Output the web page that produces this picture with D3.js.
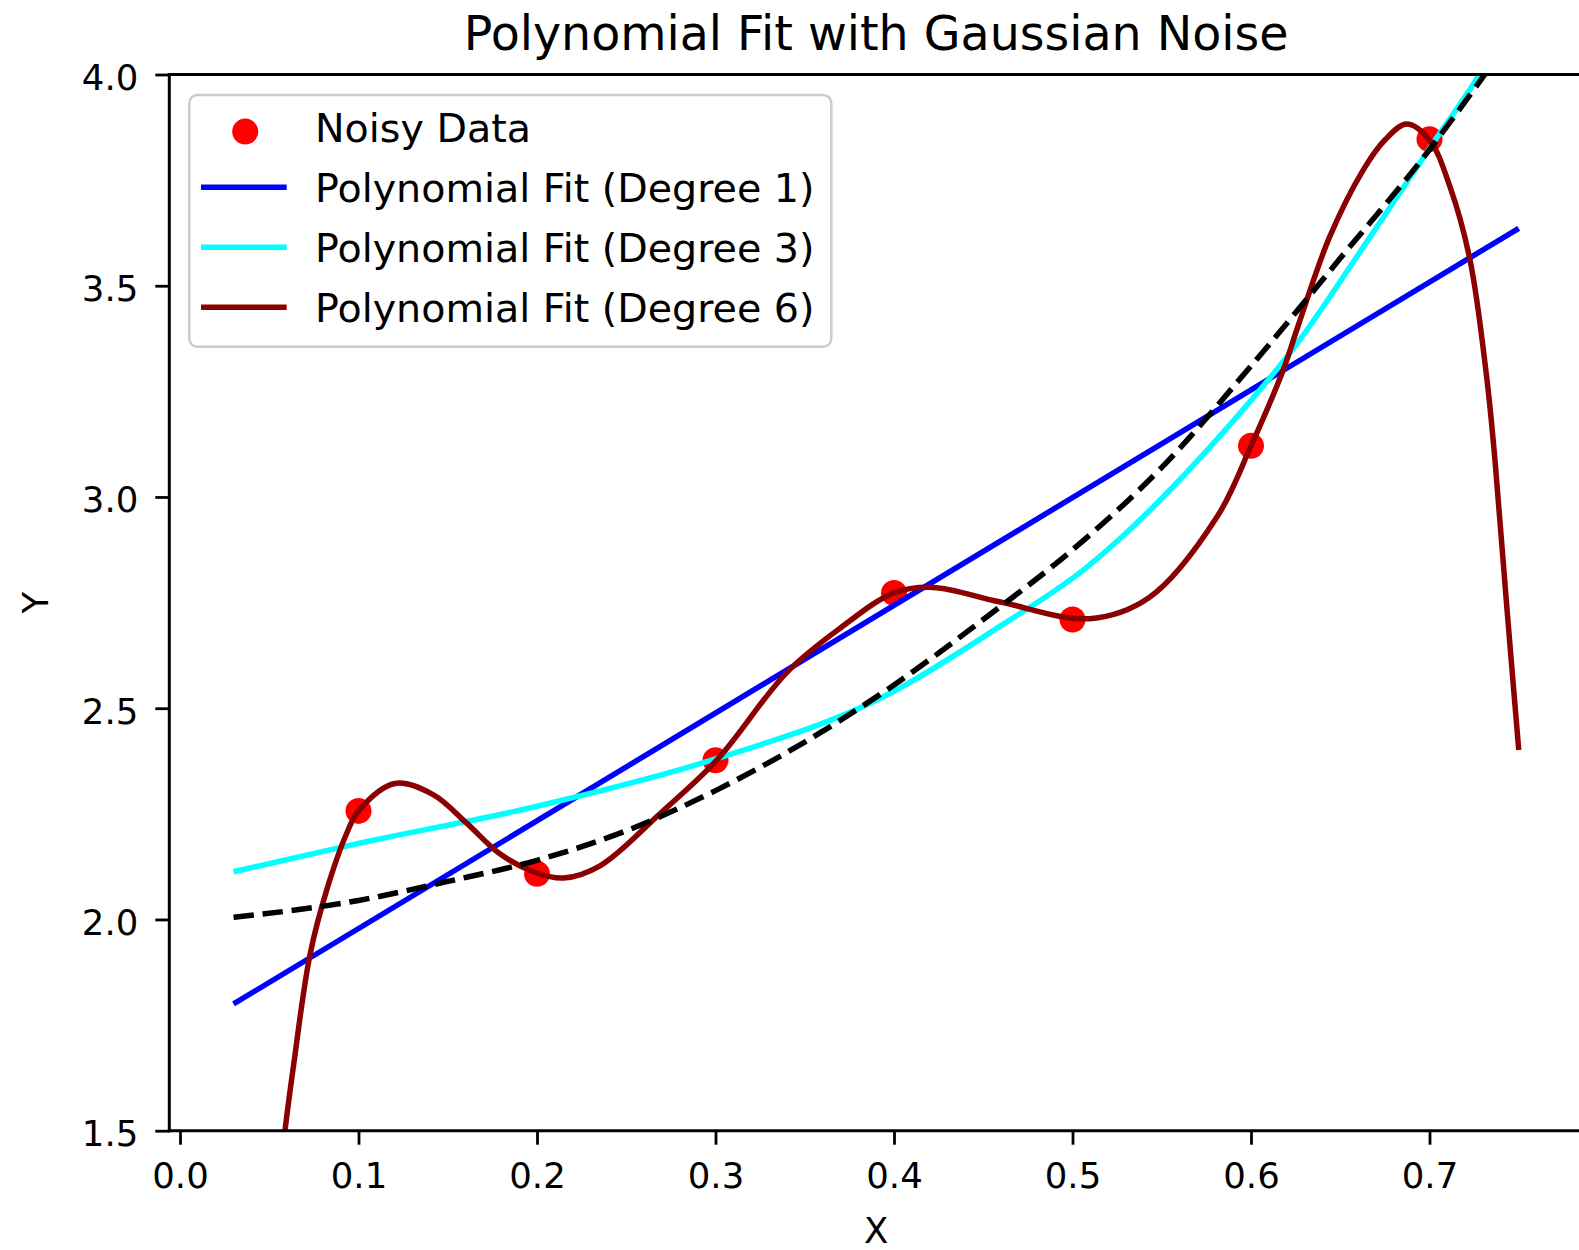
<!DOCTYPE html>
<html><head><meta charset="utf-8">
<script src="https://cdn.jsdelivr.net/npm/d3@7"></script>
<style>
body{margin:0;background:#fff}
svg{display:block}
text{font-family:"DejaVu Sans",sans-serif;fill:#000}
</style>
</head><body>
<svg id="chart" width="1579" height="1250"></svg>
<script>
// ---- data ----
const noisyX = [0.1, 0.2, 0.3, 0.4, 0.5, 0.6, 0.7];
const noisyY = [2.257, 2.108, 2.377, 2.773, 2.710, 3.121, 3.847];

const deg1X = [0.03, 0.75];
const deg1Y = [1.800, 3.636];

const deg3X = [0.03, 0.1, 0.2, 0.3, 0.394, 0.459, 0.506, 0.588, 0.626, 0.663, 0.700, 0.728, 0.75];
const deg3Y = [2.113, 2.180, 2.268, 2.380, 2.527, 2.693, 2.827, 3.170, 3.364, 3.592, 3.825, 4.000, 4.160];

const deg6X = [0.03, 0.045, 0.0588, 0.0635, 0.0728, 0.0822, 0.0934, 0.1, 0.1204, 0.142, 0.1606, 0.179, 0.198, 0.2147, 0.2353, 0.269, 0.3007, 0.34, 0.37, 0.4, 0.422, 0.459, 0.5098, 0.543, 0.581, 0.6, 0.618, 0.626, 0.644, 0.663, 0.675, 0.6872, 0.7, 0.7115, 0.7227, 0.732, 0.7367, 0.743, 0.75];
const deg6Y = [0.30, 0.97, 1.500, 1.651, 1.916, 2.070, 2.204, 2.257, 2.322, 2.295, 2.228, 2.156, 2.113, 2.098, 2.127, 2.251, 2.377, 2.585, 2.690, 2.773, 2.786, 2.752, 2.712, 2.762, 2.953, 3.121, 3.300, 3.400, 3.615, 3.775, 3.845, 3.883, 3.845, 3.734, 3.561, 3.285, 3.087, 2.756, 2.401];

const trueX = [0.03, 0.1, 0.15, 0.2, 0.25, 0.3, 0.35, 0.4, 0.45, 0.5, 0.55, 0.6, 0.65, 0.7, 0.731, 0.75];
const trueY = [2.005, 2.045, 2.09, 2.14, 2.21, 2.305, 2.42, 2.555, 2.71, 2.875, 3.07, 3.31, 3.565, 3.822, 4.0, 4.11];

const xTicks = [0.0, 0.1, 0.2, 0.3, 0.4, 0.5, 0.6, 0.7];
const yTicks = [1.5, 2.0, 2.5, 3.0, 3.5, 4.0];

const seriesNames = ["Noisy Data", "Polynomial Fit (Degree 1)", "Polynomial Fit (Degree 3)", "Polynomial Fit (Degree 6)"];
const seriesColors = ["#ff0000", "#0000ff", "#00ffff", "#8b0000"];

// ---- layout ----
const L = 169.3, R = 1583, T = 74.5, B = 1130.7;
const svg = d3.select("#chart");
const x = d3.scaleLinear().domain([-0.006, 0.786]).range([L, R]);
const y = d3.scaleLinear().domain([1.5, 4.0]).range([B, T]);

svg.append("defs").append("clipPath").attr("id", "clip")
  .append("rect").attr("x", L).attr("y", T).attr("width", R - L).attr("height", B - T);

const plot = svg.append("g").attr("clip-path", "url(#clip)");

// scatter
plot.selectAll("circle.pt").data(noisyX.map((d, i) => [d, noisyY[i]]))
  .enter().append("circle").attr("class", "pt")
  .attr("cx", d => x(d[0])).attr("cy", d => y(d[1])).attr("r", 13)
  .attr("fill", seriesColors[0]);

const zip = (a, b) => a.map((d, i) => [d, b[i]]);
const lineM = d3.line().x(d => x(d[0])).y(d => y(d[1])).curve(d3.curveMonotoneX);
const lineC = d3.line().x(d => x(d[0])).y(d => y(d[1])).curve(d3.curveCatmullRom.alpha(0.5));

const lw = 5.5;
plot.append("path").attr("d", lineM(zip(deg1X, deg1Y))).attr("fill", "none")
  .attr("stroke", seriesColors[1]).attr("stroke-width", lw);
plot.append("path").attr("d", lineM(zip(deg3X, deg3Y))).attr("fill", "none")
  .attr("stroke", seriesColors[2]).attr("stroke-width", lw);
plot.append("path").attr("d", lineC(zip(deg6X, deg6Y))).attr("fill", "none")
  .attr("stroke", seriesColors[3]).attr("stroke-width", lw);
plot.append("path").attr("d", lineM(zip(trueX, trueY))).attr("fill", "none")
  .attr("stroke", "#000").attr("stroke-width", lw)
  .attr("stroke-dasharray", "20.4,8.8");

// axes
const fs = 35.5;
const xAxis = svg.append("g").attr("transform", `translate(0,${B})`)
  .call(d3.axisBottom(x).tickValues(xTicks).tickFormat(d3.format(".1f")).tickSize(14).tickPadding(18));
const yAxis = svg.append("g").attr("transform", `translate(${L},0)`)
  .call(d3.axisLeft(y).tickValues(yTicks).tickFormat(d3.format(".1f")).tickSize(14).tickPadding(17));
[xAxis, yAxis].forEach(a => {
  a.select(".domain").remove();
  a.selectAll(".tick line").attr("stroke", "#000").attr("stroke-width", 2.8);
  a.selectAll(".tick text").attr("font-size", fs).attr("font-family", "DejaVu Sans").attr("fill", "#000");
});
yAxis.selectAll(".tick text").attr("dy", "0.42em");

// spines
const sp = svg.append("g").attr("stroke", "#000").attr("stroke-width", 3).attr("fill", "none");
sp.append("line").attr("x1", L).attr("x2", L).attr("y1", T - 1.5).attr("y2", B + 1.5);
sp.append("line").attr("x1", L - 1.5).attr("x2", R).attr("y1", B).attr("y2", B);
sp.append("line").attr("x1", L - 1.5).attr("x2", R).attr("y1", T).attr("y2", T);
sp.append("line").attr("x1", R).attr("x2", R).attr("y1", T).attr("y2", B);

// title & labels
svg.append("text").attr("x", (L + R) / 2).attr("y", 50).attr("text-anchor", "middle")
  .attr("font-size", 47.5).text("Polynomial Fit with Gaussian Noise");
svg.append("text").attr("x", (L + R) / 2).attr("y", 1243).attr("text-anchor", "middle")
  .attr("font-size", fs).text("X");
svg.append("text").attr("transform", `translate(48,${(T + B) / 2}) rotate(-90)`)
  .attr("text-anchor", "middle").attr("font-size", fs).text("Y");

// legend
const lg = svg.append("g");
lg.append("rect").attr("x", 189.3).attr("y", 95).attr("width", 642).attr("height", 251.7)
  .attr("rx", 8).attr("fill", "#fff").attr("fill-opacity", 0.8)
  .attr("stroke", "#cccccc").attr("stroke-width", 2.5);
const rowY = [131.6, 187.3, 247.3, 307.2];
const textBase = [141.7, 201.7, 261.5, 321.5];
seriesNames.forEach((name, i) => {
  if (i === 0) {
    lg.append("circle").attr("cx", 245.2).attr("cy", rowY[i]).attr("r", 13).attr("fill", seriesColors[i]);
  } else {
    lg.append("line").attr("x1", 201).attr("x2", 286.7).attr("y1", rowY[i]).attr("y2", rowY[i])
      .attr("stroke", seriesColors[i]).attr("stroke-width", lw);
  }
  lg.append("text").attr("x", 315).attr("y", textBase[i]).attr("font-size", 39.6).text(name);
});
</script>
</body></html>
